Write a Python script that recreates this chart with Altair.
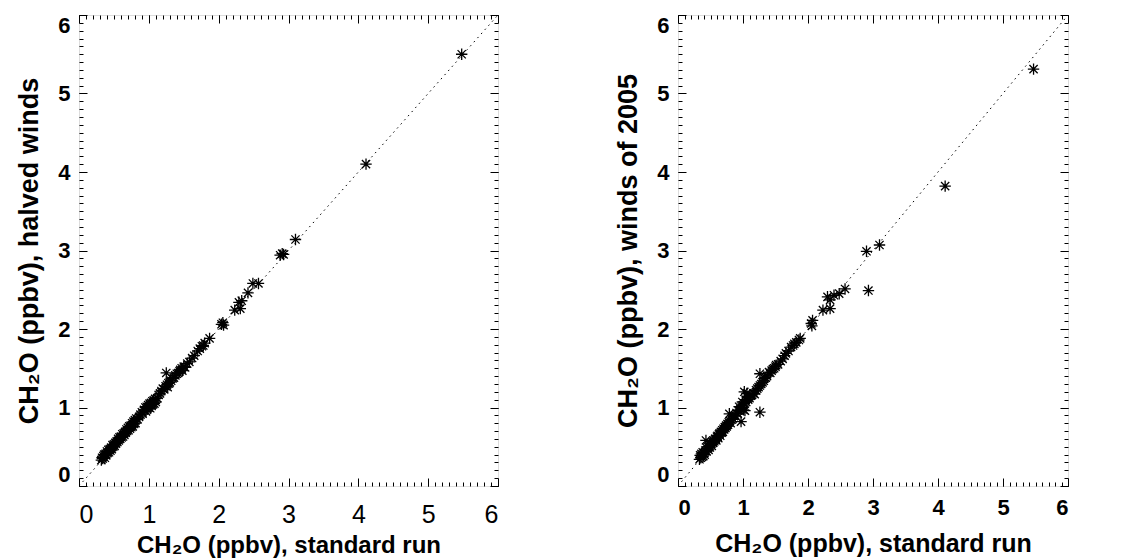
import altair as alt
import pandas as pd

# ---------------- data ----------------
# Left panel: standard run (x) vs halved winds (y)
STD_A = [0.32, 0.33, 0.34, 0.35, 0.36, 0.37, 0.38, 0.39, 0.40, 0.41, 0.42, 0.43,
         0.44, 0.45, 0.46, 0.47, 0.48, 0.49, 0.50, 0.51, 0.52, 0.53, 0.54, 0.55,
         0.56, 0.57, 0.58, 0.59, 0.60, 0.61, 0.62, 0.63, 0.64, 0.65, 0.66, 0.67,
         0.68, 0.69, 0.70, 0.71, 0.72, 0.73, 0.74, 0.75, 0.76, 0.77, 0.78, 0.79,
         0.80, 0.81, 0.82, 0.84, 0.86, 0.88, 0.90, 0.91, 0.93, 0.95, 0.96, 0.97,
         0.98, 0.99, 1.00, 1.01, 1.02, 1.03, 1.04, 1.05, 1.06, 1.07, 1.08, 1.09,
         1.10, 1.12, 1.14, 1.16, 1.18, 1.20, 1.22, 1.24, 1.25, 1.26, 1.27, 1.28,
         1.30, 1.32, 1.34, 1.36, 1.38, 1.40, 1.42, 1.44, 1.45, 1.47, 1.48, 1.50,
         1.52, 1.55, 1.58, 1.62, 1.65, 1.70, 1.73, 1.76, 1.78, 1.80, 1.87, 2.04,
         2.06, 2.07, 2.23, 2.29, 2.31, 2.33, 2.42, 2.49, 2.57, 2.88, 2.91, 2.93,
         3.10, 4.11, 5.48]
HALVED = [0.33, 0.36, 0.35, 0.38, 0.40, 0.36, 0.41, 0.39, 0.44, 0.42, 0.46, 0.43,
          0.47, 0.45, 0.49, 0.47, 0.52, 0.50, 0.53, 0.51, 0.55, 0.54, 0.57, 0.56,
          0.60, 0.58, 0.62, 0.60, 0.63, 0.62, 0.66, 0.63, 0.67, 0.65, 0.69, 0.68,
          0.72, 0.70, 0.74, 0.71, 0.76, 0.73, 0.77, 0.75, 0.80, 0.76, 0.82, 0.79,
          0.84, 0.80, 0.86, 0.85, 0.88, 0.91, 0.94, 0.92, 0.97, 1.00, 0.95, 1.01,
          0.98, 1.03, 1.00, 1.05, 0.99, 1.06, 1.02, 1.08, 1.04, 1.09, 1.05, 1.11,
          1.07, 1.12, 1.16, 1.18, 1.21, 1.24, 1.23, 1.27, 1.44, 1.29, 1.26, 1.31,
          1.32, 1.34, 1.37, 1.38, 1.41, 1.43, 1.44, 1.46, 1.48, 1.50, 1.47, 1.52,
          1.51, 1.56, 1.58, 1.63, 1.66, 1.72, 1.75, 1.78, 1.79, 1.82, 1.88, 2.06,
          2.08, 2.05, 2.24, 2.34, 2.26, 2.36, 2.46, 2.58, 2.58, 2.94, 2.96, 2.95,
          3.14, 4.10, 5.50]

# Right panel: standard run (x) vs winds of 2005 (y)
STD_B = [0.33, 0.34, 0.35, 0.36, 0.37, 0.38, 0.39, 0.40, 0.41, 0.42, 0.43, 0.44,
         0.45, 0.46, 0.47, 0.48, 0.49, 0.50, 0.51, 0.52, 0.53, 0.54, 0.55, 0.56,
         0.57, 0.58, 0.59, 0.60, 0.61, 0.62, 0.63, 0.64, 0.65, 0.66, 0.67, 0.68,
         0.69, 0.70, 0.71, 0.72, 0.73, 0.74, 0.75, 0.76, 0.77, 0.78, 0.79, 0.80,
         0.81, 0.82, 0.84, 0.86, 0.88, 0.90, 0.92, 0.93, 0.94, 0.97, 0.96, 0.98,
         0.99, 1.00, 1.01, 1.02, 1.02, 1.03, 1.04, 1.05, 1.06, 1.07, 1.08, 1.10,
         1.12, 1.14, 1.16, 1.18, 1.20, 1.22, 1.24, 1.26, 1.26, 1.26, 1.28, 1.30,
         1.32, 1.33, 1.35, 1.37, 1.40, 1.42, 1.44, 1.46, 1.48, 1.50, 1.51, 1.54,
         1.58, 1.61, 1.64, 1.66, 1.70, 1.74, 1.77, 1.79, 1.82, 1.86, 1.88, 2.05,
         2.06, 2.07, 2.23, 2.30, 2.34, 2.34, 2.40, 2.48, 2.57, 2.90, 2.93, 3.10,
         4.11, 5.47]
W2005 = [0.34, 0.39, 0.36, 0.41, 0.37, 0.43, 0.38, 0.42, 0.40, 0.45, 0.58, 0.44,
         0.48, 0.50, 0.46, 0.51, 0.49, 0.53, 0.54, 0.51, 0.56, 0.55, 0.58, 0.57,
         0.60, 0.60, 0.58, 0.63, 0.64, 0.61, 0.66, 0.67, 0.64, 0.69, 0.68, 0.71,
         0.69, 0.73, 0.72, 0.75, 0.74, 0.77, 0.76, 0.79, 0.78, 0.81, 0.92, 0.83,
         0.80, 0.85, 0.86, 0.89, 0.90, 0.93, 0.92, 0.96, 1.01, 0.82, 0.98, 1.00,
         1.07, 1.03, 0.97, 1.20, 1.05, 0.96, 1.10, 1.07, 1.18, 1.13, 1.10, 1.12,
         1.15, 1.16, 1.18, 1.17, 1.22, 1.24, 1.26, 1.28, 1.43, 0.94, 1.30, 1.32,
         1.34, 1.37, 1.38, 1.40, 1.45, 1.44, 1.47, 1.49, 1.50, 1.52, 1.54, 1.55,
         1.59, 1.62, 1.66, 1.69, 1.72, 1.77, 1.79, 1.81, 1.83, 1.86, 1.88, 2.07,
         2.04, 2.11, 2.24, 2.41, 2.26, 2.37, 2.43, 2.45, 2.51, 2.99, 2.49, 3.07,
         3.82, 5.31]

ONE_TO_ONE = [0, 6]
MAJOR_TICKS = [0, 1, 2, 3, 4, 5, 6]
MINOR_TICKS = [round(i * 0.1, 1) for i in range(61)]

X_TITLE = "CH\u2082O (ppbv), standard run"
Y_TITLE_A = "CH\u2082O (ppbv), halved winds"
Y_TITLE_B = "CH\u2082O (ppbv), winds of 2005"

FONT = "Liberation Sans"
MAJ = 8
MIN = 4

STAR = "M-1,0L1,0M0,-1L0,1M-0.72,-0.72L0.72,0.72M-0.72,0.72L0.72,-0.72"


def tick_axis(orient, values, size):
    return alt.Axis(orient=orient, values=values, tickSize=size, offset=-size,
                    domain=False, grid=False, ticks=True, tickColor="black",
                    tickWidth=1, labels=False, title="")


def x_axis(size, weight, pad, tsize, tpad):
    return alt.Axis(orient="bottom", values=MAJOR_TICKS, tickSize=MAJ, offset=-MAJ,
                    domain=False, grid=False, ticks=True, tickColor="black",
                    tickWidth=1, labels=True, labelFont=FONT, labelFontSize=size,
                    labelFontWeight=weight, labelColor="black", labelPadding=pad,
                    format="d", title=X_TITLE, titleFont=FONT,
                    titleFontSize=tsize, titleFontWeight="bold",
                    titleColor="black", titlePadding=tpad)


def y_axis(title, size):
    return alt.Axis(orient="left", values=MAJOR_TICKS, tickSize=MAJ, offset=-MAJ,
                    domain=False, grid=False, ticks=True, tickColor="black",
                    tickWidth=1, labels=True, labelFont=FONT, labelFontSize=size,
                    labelFontWeight="bold", labelColor="black", labelPadding=9,
                    labelFlush=True, format="d", title=title, titleFont=FONT,
                    titleFontSize=27, titleFontWeight="bold", titleColor="black",
                    titlePadding=14)


def panel(xs, ys, width, xa, ya):
    df = pd.DataFrame({"x": xs, "y": ys})
    ldf = pd.DataFrame({"x": ONE_TO_ONE, "y": ONE_TO_ONE})
    sc = alt.Scale(domain=[0, 6], nice=False, zero=False)

    def layer(a_x, a_y, visible):
        m = alt.Chart(df).mark_point(shape=STAR, filled=False, stroke="black",
                                     strokeWidth=1.3, size=130,
                                     opacity=1 if visible else 0)
        return m.encode(x=alt.X("x:Q", scale=sc, axis=a_x),
                        y=alt.Y("y:Q", scale=sc, axis=a_y))

    main = layer(xa, ya, True)
    l2 = layer(tick_axis("bottom", MINOR_TICKS, MIN), tick_axis("left", MINOR_TICKS, MIN), False)
    l3 = layer(tick_axis("top", MAJOR_TICKS, MAJ), tick_axis("right", MAJOR_TICKS, MAJ), False)
    l4 = layer(tick_axis("top", MINOR_TICKS, MIN), tick_axis("right", MINOR_TICKS, MIN), False)
    line = alt.Chart(ldf).mark_line(color="black", strokeWidth=1,
                                    strokeDash=[1.5, 4], clip=True).encode(
        x=alt.X("x:Q", scale=sc, axis=None),
        y=alt.Y("y:Q", scale=sc, axis=None))
    return alt.layer(line, main, l2, l3, l4).resolve_axis(
        x="independent", y="independent").properties(width=width, height=471)


left = panel(STD_A, HALVED, 419,
             x_axis(25, "normal", 16, 24, 6), y_axis(Y_TITLE_A, 22))
right = panel(STD_B, W2005, 390,
              x_axis(22, "bold", 11, 25, 13), y_axis(Y_TITLE_B, 22))

chart = alt.hconcat(left, right, spacing=115).properties(
    padding={"left": 7, "top": 5, "right": 5, "bottom": 5}
).configure_view(stroke="black", strokeWidth=1).configure(background="white")

chart.save("out.html", embed_options={"renderer": "svg", "actions": False})
